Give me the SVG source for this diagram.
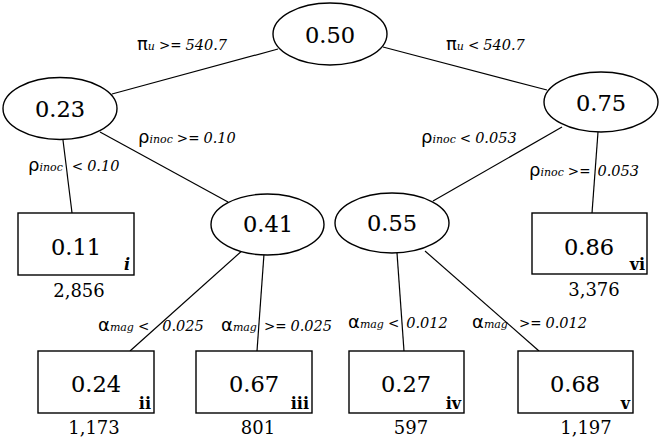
<svg xmlns="http://www.w3.org/2000/svg" width="661" height="441" viewBox="0 0 661 441">
<style>
.nd{fill:#fff;stroke:#000;stroke-width:1.4}
.v{font-family:"DejaVu Serif",serif;font-size:22.5px;text-anchor:middle;fill:#000;stroke:#000;stroke-width:0.1}
.c{font-family:"DejaVu Serif",serif;font-size:18px;text-anchor:middle;fill:#000}
.r{font-family:"DejaVu Serif",serif;font-size:16px;font-weight:bold;text-anchor:end;fill:#000}
.ri{font-style:italic}
.e line{stroke:#000;stroke-width:1.2}
.l{font-family:"DejaVu Serif",serif;font-size:14.5px;font-style:italic;fill:#000}
.g{font-family:"DejaVu Sans",sans-serif;font-style:normal;font-size:18px}
.s{font-size:11px}
.o{font-family:"DejaVu Sans",sans-serif;font-style:normal;font-size:13.5px}
</style>
<rect width="661" height="441" fill="#fff"/>
<g id="connectors" class="e">
<line x1="278" y1="49" x2="112" y2="94"/>
<line x1="383" y1="47" x2="547" y2="90"/>
<line x1="63" y1="140" x2="72" y2="213"/>
<line x1="100" y1="132" x2="228" y2="202"/>
<line x1="562" y1="127" x2="433" y2="201"/>
<line x1="598" y1="132" x2="592" y2="213"/>
<line x1="244" y1="249" x2="130" y2="351"/>
<line x1="264" y1="254" x2="257" y2="351"/>
<line x1="397" y1="253" x2="404" y2="351"/>
<line x1="425" y1="251" x2="539" y2="351"/>
</g>
<g id="labels">
<text class="l" x="137" y="50"><tspan class="g">π</tspan><tspan class="s">u</tspan><tspan class="o" dx="4">&gt;=</tspan><tspan dx="4">540.7</tspan></text>
<text class="l" x="446" y="50"><tspan class="g">π</tspan><tspan class="s">u</tspan><tspan class="o" dx="4">&lt;</tspan><tspan dx="4">540.7</tspan></text>
<text class="l" x="138" y="143"><tspan class="g">ρ</tspan><tspan class="s">inoc</tspan><tspan class="o" dx="4">&gt;=</tspan><tspan dx="4">0.10</tspan></text>
<text class="l" x="28" y="171"><tspan class="g">ρ</tspan><tspan class="s">inoc</tspan><tspan class="o" dx="9">&lt;</tspan><tspan dx="4">0.10</tspan></text>
<text class="l" x="421" y="143"><tspan class="g">ρ</tspan><tspan class="s">inoc</tspan><tspan class="o" dx="4">&lt;</tspan><tspan dx="4">0.053</tspan></text>
<text class="l" x="529" y="176"><tspan class="g">ρ</tspan><tspan class="s">inoc</tspan><tspan class="o" dx="4">&gt;=</tspan><tspan dx="7">0.053</tspan></text>
<text class="l" x="98" y="331"><tspan class="g">α</tspan><tspan class="s">mag</tspan><tspan class="o" dx="4">&lt;</tspan><tspan dx="13">0.025</tspan></text>
<text class="l" x="221" y="331"><tspan class="g">α</tspan><tspan class="s">mag</tspan><tspan class="o" dx="7">&gt;=</tspan><tspan dx="4">0.025</tspan></text>
<text class="l" x="348" y="328"><tspan class="g">α</tspan><tspan class="s">mag</tspan><tspan class="o" font-size="11px" dx="4">&lt;</tspan><tspan dx="7">0.012</tspan></text>
<text class="l" x="472" y="328"><tspan class="g">α</tspan><tspan class="s">mag</tspan><tspan class="o" dx="11">&gt;=</tspan><tspan dx="4">0.012</tspan></text>
</g>
<g id="n050"><ellipse class="nd" cx="330" cy="34" rx="57" ry="31"/><text class="v" x="330" y="43">0.50</text></g>
<g id="n023"><ellipse class="nd" cx="60" cy="108.5" rx="57" ry="31"/><text class="v" x="60" y="117">0.23</text></g>
<g id="n075"><ellipse class="nd" cx="601" cy="102" rx="57" ry="30"/><text class="v" x="601" y="111">0.75</text></g>
<g id="n041"><ellipse class="nd" cx="267.5" cy="224.5" rx="56.5" ry="30.5"/><text class="v" x="268" y="232">0.41</text></g>
<g id="n055"><ellipse class="nd" cx="392" cy="223" rx="57" ry="30"/><text class="v" x="392" y="231">0.55</text></g>
<g id="leaf-i"><rect class="nd" x="18" y="213" width="116" height="62"/><text class="v" x="76" y="255">0.11</text><text class="r ri" x="130" y="270">i</text><text class="c" x="79" y="297">2,856</text></g>
<g id="leaf-vi"><rect class="nd" x="532" y="213" width="115" height="61"/><text class="v" x="589" y="255">0.86</text><text class="r" x="645" y="270">vi</text><text class="c" x="594" y="296">3,376</text></g>
<g id="leaf-ii"><rect class="nd" x="38" y="351" width="116" height="62"/><text class="v" x="96" y="392">0.24</text><text class="r" x="151" y="409">ii</text><text class="c" x="94" y="434">1,173</text></g>
<g id="leaf-iii"><rect class="nd" x="196" y="351" width="116" height="62"/><text class="v" x="254" y="392">0.67</text><text class="r" x="309" y="409">iii</text><text class="c" x="258" y="434">801</text></g>
<g id="leaf-iv"><rect class="nd" x="349" y="351" width="115" height="62"/><text class="v" x="406" y="392">0.27</text><text class="r" x="461" y="409">iv</text><text class="c" x="411" y="434">597</text></g>
<g id="leaf-v"><rect class="nd" x="518" y="351" width="115" height="62"/><text class="v" x="575" y="392">0.68</text><text class="r" x="630" y="409">v</text><text class="c" x="586" y="434">1,197</text></g>
</svg>
